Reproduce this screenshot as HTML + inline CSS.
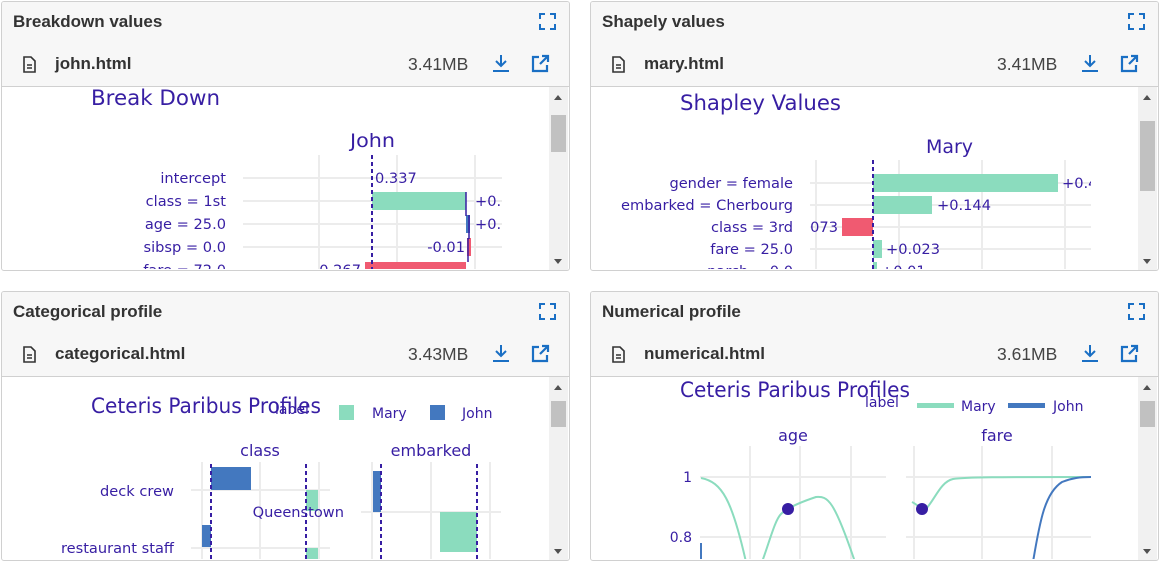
<!DOCTYPE html>
<html><head><meta charset="utf-8"><style>
body{margin:0;width:1160px;height:562px;background:#fff;position:relative;overflow:hidden;font-family:"Liberation Sans",sans-serif}
.p{position:absolute;border:1px solid #d0d0d0;border-radius:3px;background:#fff;overflow:hidden}
.hd{position:absolute;left:0;right:0;top:0;height:84px;background:#f7f7f7;border-bottom:1px solid #d0d0d0}
.t{position:absolute;left:11px;top:10px;font-weight:bold;font-size:17px;color:#333}
.f{position:absolute;left:53px;top:52px;font-weight:bold;font-size:17px;color:#333}
.sz{position:absolute;top:52px;font-size:17.5px;color:#444}
.sb{position:absolute;right:1px;top:85px;width:19px;bottom:0;background:#f1f1f1}
.th{position:absolute;left:2px;width:15px;background:#c1c1c1}
svg.o{position:absolute;left:0;top:0}
</style></head><body>
<div class="p" style="left:1px;top:1px;width:567px;height:268px"><div class="hd"><div class="t">Breakdown values</div><div class="f">john.html</div><div class="sz" style="left:406px">3.41MB</div></div><div class="sb"><div class="th" style="top:28px;height:37px"></div></div></div>
<div class="p" style="left:590px;top:1px;width:567px;height:268px"><div class="hd"><div class="t">Shapely values</div><div class="f">mary.html</div><div class="sz" style="left:406px">3.41MB</div></div><div class="sb"><div class="th" style="top:34px;height:70px"></div></div></div>
<div class="p" style="left:1px;top:291px;width:567px;height:268px"><div class="hd"><div class="t">Categorical profile</div><div class="f">categorical.html</div><div class="sz" style="left:406px">3.43MB</div></div><div class="sb"><div class="th" style="top:24px;height:26px"></div></div></div>
<div class="p" style="left:590px;top:291px;width:567px;height:268px"><div class="hd"><div class="t">Numerical profile</div><div class="f">numerical.html</div><div class="sz" style="left:406px">3.61MB</div></div><div class="sb"><div class="th" style="top:24px;height:26px"></div></div></div>
<svg class="o" width="1160" height="562" font-family="DejaVu Sans, sans-serif">
<defs>
<clipPath id="c1"><rect x="2" y="86" width="546" height="183"/></clipPath>
<clipPath id="c2"><rect x="591" y="86" width="546" height="183"/></clipPath>
<clipPath id="c3"><rect x="2" y="376" width="546" height="183"/></clipPath>
<clipPath id="c4"><rect x="591" y="376" width="546" height="183"/></clipPath>
<g id="ic" fill="none" stroke="#1a6fc4" stroke-width="2">
<path d="M0 5V0H5M10 0H15V5M15 10V15H10M5 15H0V10"/>
</g>
<g id="dl" fill="none" stroke="#1a6fc4" stroke-width="2"><path d="M8 0V11M3 6L8 11L13 6M0 16H16"/></g>
<g id="ex" fill="none" stroke="#1a6fc4" stroke-width="2.2"><path d="M7 2H1V16H15V10M10 1H16V7M16 1L8 9"/></g>
<g id="doc" fill="none" stroke="#333" stroke-width="1.6"><path d="M1 1H8L12 5V16H1Z M4 9H9 M4 12H9"/></g>
</defs>
<g><use href="#ic" x="540" y="14"/><use href="#dl" x="493" y="55"/><use href="#ex" x="532" y="55"/><use href="#doc" x="23" y="56"/>
<use href="#ic" x="1129" y="14"/><use href="#dl" x="1082" y="55"/><use href="#ex" x="1121" y="55"/><use href="#doc" x="612" y="56"/>
<use href="#ic" x="540" y="304"/><use href="#dl" x="493" y="345"/><use href="#ex" x="532" y="345"/><use href="#doc" x="23" y="346"/>
<use href="#ic" x="1129" y="304"/><use href="#dl" x="1082" y="345"/><use href="#ex" x="1121" y="345"/><use href="#doc" x="612" y="346"/></g>
<g fill="#505050"><path d="M554 100l4-5 4 5z M554 259l4 5 4-5z M1143 100l4-5 4 5z M1143 259l4 5 4-5z M554 390l4-5 4 5z M554 549l4 5 4-5z M1143 390l4-5 4 5z M1143 549l4 5 4-5z"/></g>

<!-- Panel 1 -->
<g clip-path="url(#c1)" fill="#371ea3">
<text x="91" y="105" font-size="21" textLength="129" lengthAdjust="spacingAndGlyphs">Break Down</text>
<text x="350" y="147" font-size="19" textLength="45" lengthAdjust="spacingAndGlyphs">John</text>
<g stroke="#ececec" stroke-width="2"><path d="M319 155V270M397 155V270M475 155V270M243 178H502M243 201H502M243 224H502M243 247H502M243 270H502"/></g>
<rect x="372" y="192" width="94" height="18" fill="#8bdcbe"/>
<rect x="466" y="215" width="4" height="18" fill="#4378bf"/>
<rect x="467" y="238" width="4" height="18" fill="#f05a71"/>
<rect x="365" y="262" width="101" height="18" fill="#f05a71"/>
<g stroke="#371ea3" stroke-width="1.5"><path d="M466 192V216M469 215V239M468 238V262"/></g>
<path d="M372 155V270" stroke="#371ea3" stroke-width="2" stroke-dasharray="4,3"/>
<g font-size="14.6">
<text x="226" y="183" text-anchor="end">intercept</text>
<text x="226" y="206" text-anchor="end">class = 1st</text>
<text x="226" y="229" text-anchor="end">age = 25.0</text>
<text x="226" y="252" text-anchor="end">sibsp = 0.0</text>
<text x="226" y="275" text-anchor="end">fare = 72.0</text>
<text x="375" y="183">0.337</text>
<text x="475" y="206">+0.2</text>
<text x="475" y="229">+0.</text>
<text x="465" y="252" text-anchor="end">-0.01</text>
<text x="361" y="275" text-anchor="end">-0.267</text>
</g></g>
<rect x="502" y="190" width="46" height="45" fill="#fff"/>

<!-- Panel 2 -->
<g clip-path="url(#c2)" fill="#371ea3">
<text x="680" y="110" font-size="21" textLength="161" lengthAdjust="spacingAndGlyphs">Shapley Values</text>
<text x="926" y="153" font-size="19" textLength="47" lengthAdjust="spacingAndGlyphs">Mary</text>
<g stroke="#ececec" stroke-width="2"><path d="M816 160V270M899 160V270M982 160V270M1065 160V270M810 183H1091M810 205H1091M810 227H1091M810 249H1091M810 271H1091"/></g>
<rect x="873" y="174" width="185" height="18" fill="#8bdcbe"/>
<rect x="873" y="196" width="59" height="18" fill="#8bdcbe"/>
<rect x="842" y="218" width="31" height="18" fill="#f05a71"/>
<rect x="873" y="240" width="9" height="18" fill="#8bdcbe"/>
<rect x="873" y="262" width="4" height="18" fill="#8bdcbe"/>
<path d="M873 160V270" stroke="#371ea3" stroke-width="2" stroke-dasharray="4,3"/>
<g font-size="14.6">
<text x="793" y="188" text-anchor="end">gender = female</text>
<text x="793" y="210" text-anchor="end">embarked = Cherbourg</text>
<text x="793" y="232" text-anchor="end">class = 3rd</text>
<text x="793" y="254" text-anchor="end">fare = 25.0</text>
<text x="793" y="276" text-anchor="end">parch = 0.0</text>
<text x="1062" y="188">+0.4</text>
<text x="937" y="210">+0.144</text>
<text x="838" y="232" text-anchor="end">073</text>
<text x="886" y="254">+0.023</text>
<text x="881" y="276">+0.01</text>
</g></g>
<rect x="1091" y="170" width="46" height="20" fill="#fff"/>

<!-- Panel 3 -->
<g clip-path="url(#c3)" fill="#371ea3">
<g stroke="#ececec" stroke-width="2"><path d="M202 462V560M260 462V560M319 462V560M191 490H330M191 548H330M372 462V560M431 462V560M490 462V560M361 512H501"/></g>
<rect x="211" y="467" width="40" height="23" fill="#4378bf"/>
<rect x="306" y="490" width="12" height="21" fill="#8bdcbe"/>
<rect x="202" y="525" width="9" height="22" fill="#4378bf"/>
<rect x="306" y="548" width="12" height="15" fill="#8bdcbe"/>
<rect x="373" y="471" width="8" height="41" fill="#4378bf"/>
<rect x="440" y="512" width="37" height="40" fill="#8bdcbe"/>
<g stroke="#371ea3" stroke-width="2" stroke-dasharray="4,3"><path d="M211 464V560M306 464V560M381 464V560M477 464V560"/></g>
<text x="91" y="413" font-size="21" textLength="230" lengthAdjust="spacingAndGlyphs">Ceteris Paribus Profiles</text>
<text x="275" y="414" font-size="14">label</text>
<rect x="339" y="405" width="15" height="15" fill="#8bdcbe"/>
<text x="372" y="418" font-size="14">Mary</text>
<rect x="430" y="405" width="15" height="15" fill="#4378bf"/>
<text x="462" y="418" font-size="14">John</text>
<text x="260" y="456" font-size="16" text-anchor="middle">class</text>
<text x="431" y="456" font-size="16" text-anchor="middle">embarked</text>
<g font-size="14.6">
<text x="174" y="496" text-anchor="end">deck crew</text>
<text x="174" y="553" text-anchor="end">restaurant staff</text>
<text x="344" y="517" text-anchor="end">Queenstown</text>
</g></g>

<!-- Panel 4 -->
<g clip-path="url(#c4)" fill="#371ea3">
<g stroke="#ececec" stroke-width="2"><path d="M750 446V560M800 446V560M851 446V560M700 477H886M700 537H886M914 446V560M982 446V560M1052 446V560M906 477H1091M906 537H1091"/></g>
<g fill="none" stroke-width="2">
<path d="M701 478C722 482 732 500 746 562" stroke="#8bdcbe"/>
<path d="M762 562C770 540 775 520 781 514S798 503 816 497C828 496 834 500 855 562" stroke="#8bdcbe"/>
<path d="M912 502C918 505 922 510 925 510C935 500 940 482 953 479C965 477 1000 477 1091 477" stroke="#8bdcbe"/>
<path d="M701 543V562" stroke="#4378bf"/>
<path d="M1033 562C1040 520 1045 493 1062 482C1072 478 1080 477 1091 477" stroke="#4378bf"/>
</g>
<circle cx="788" cy="509" r="6" fill="#371ea3"/>
<circle cx="922" cy="509" r="6" fill="#371ea3"/>
<text x="680" y="397" font-size="21" textLength="230" lengthAdjust="spacingAndGlyphs">Ceteris Paribus Profiles</text>
<text x="865" y="407" font-size="14">label</text>
<rect x="917" y="403" width="37" height="5" fill="#8bdcbe"/>
<text x="961" y="411" font-size="14">Mary</text>
<rect x="1008" y="403" width="37" height="5" fill="#4378bf"/>
<text x="1053" y="411" font-size="14">John</text>
<text x="793" y="441" font-size="16" text-anchor="middle">age</text>
<text x="997" y="441" font-size="16" text-anchor="middle">fare</text>
<text x="692" y="482" font-size="14" text-anchor="end">1</text>
<text x="692" y="542" font-size="14" text-anchor="end">0.8</text>
</g>
</svg>
</body></html>
